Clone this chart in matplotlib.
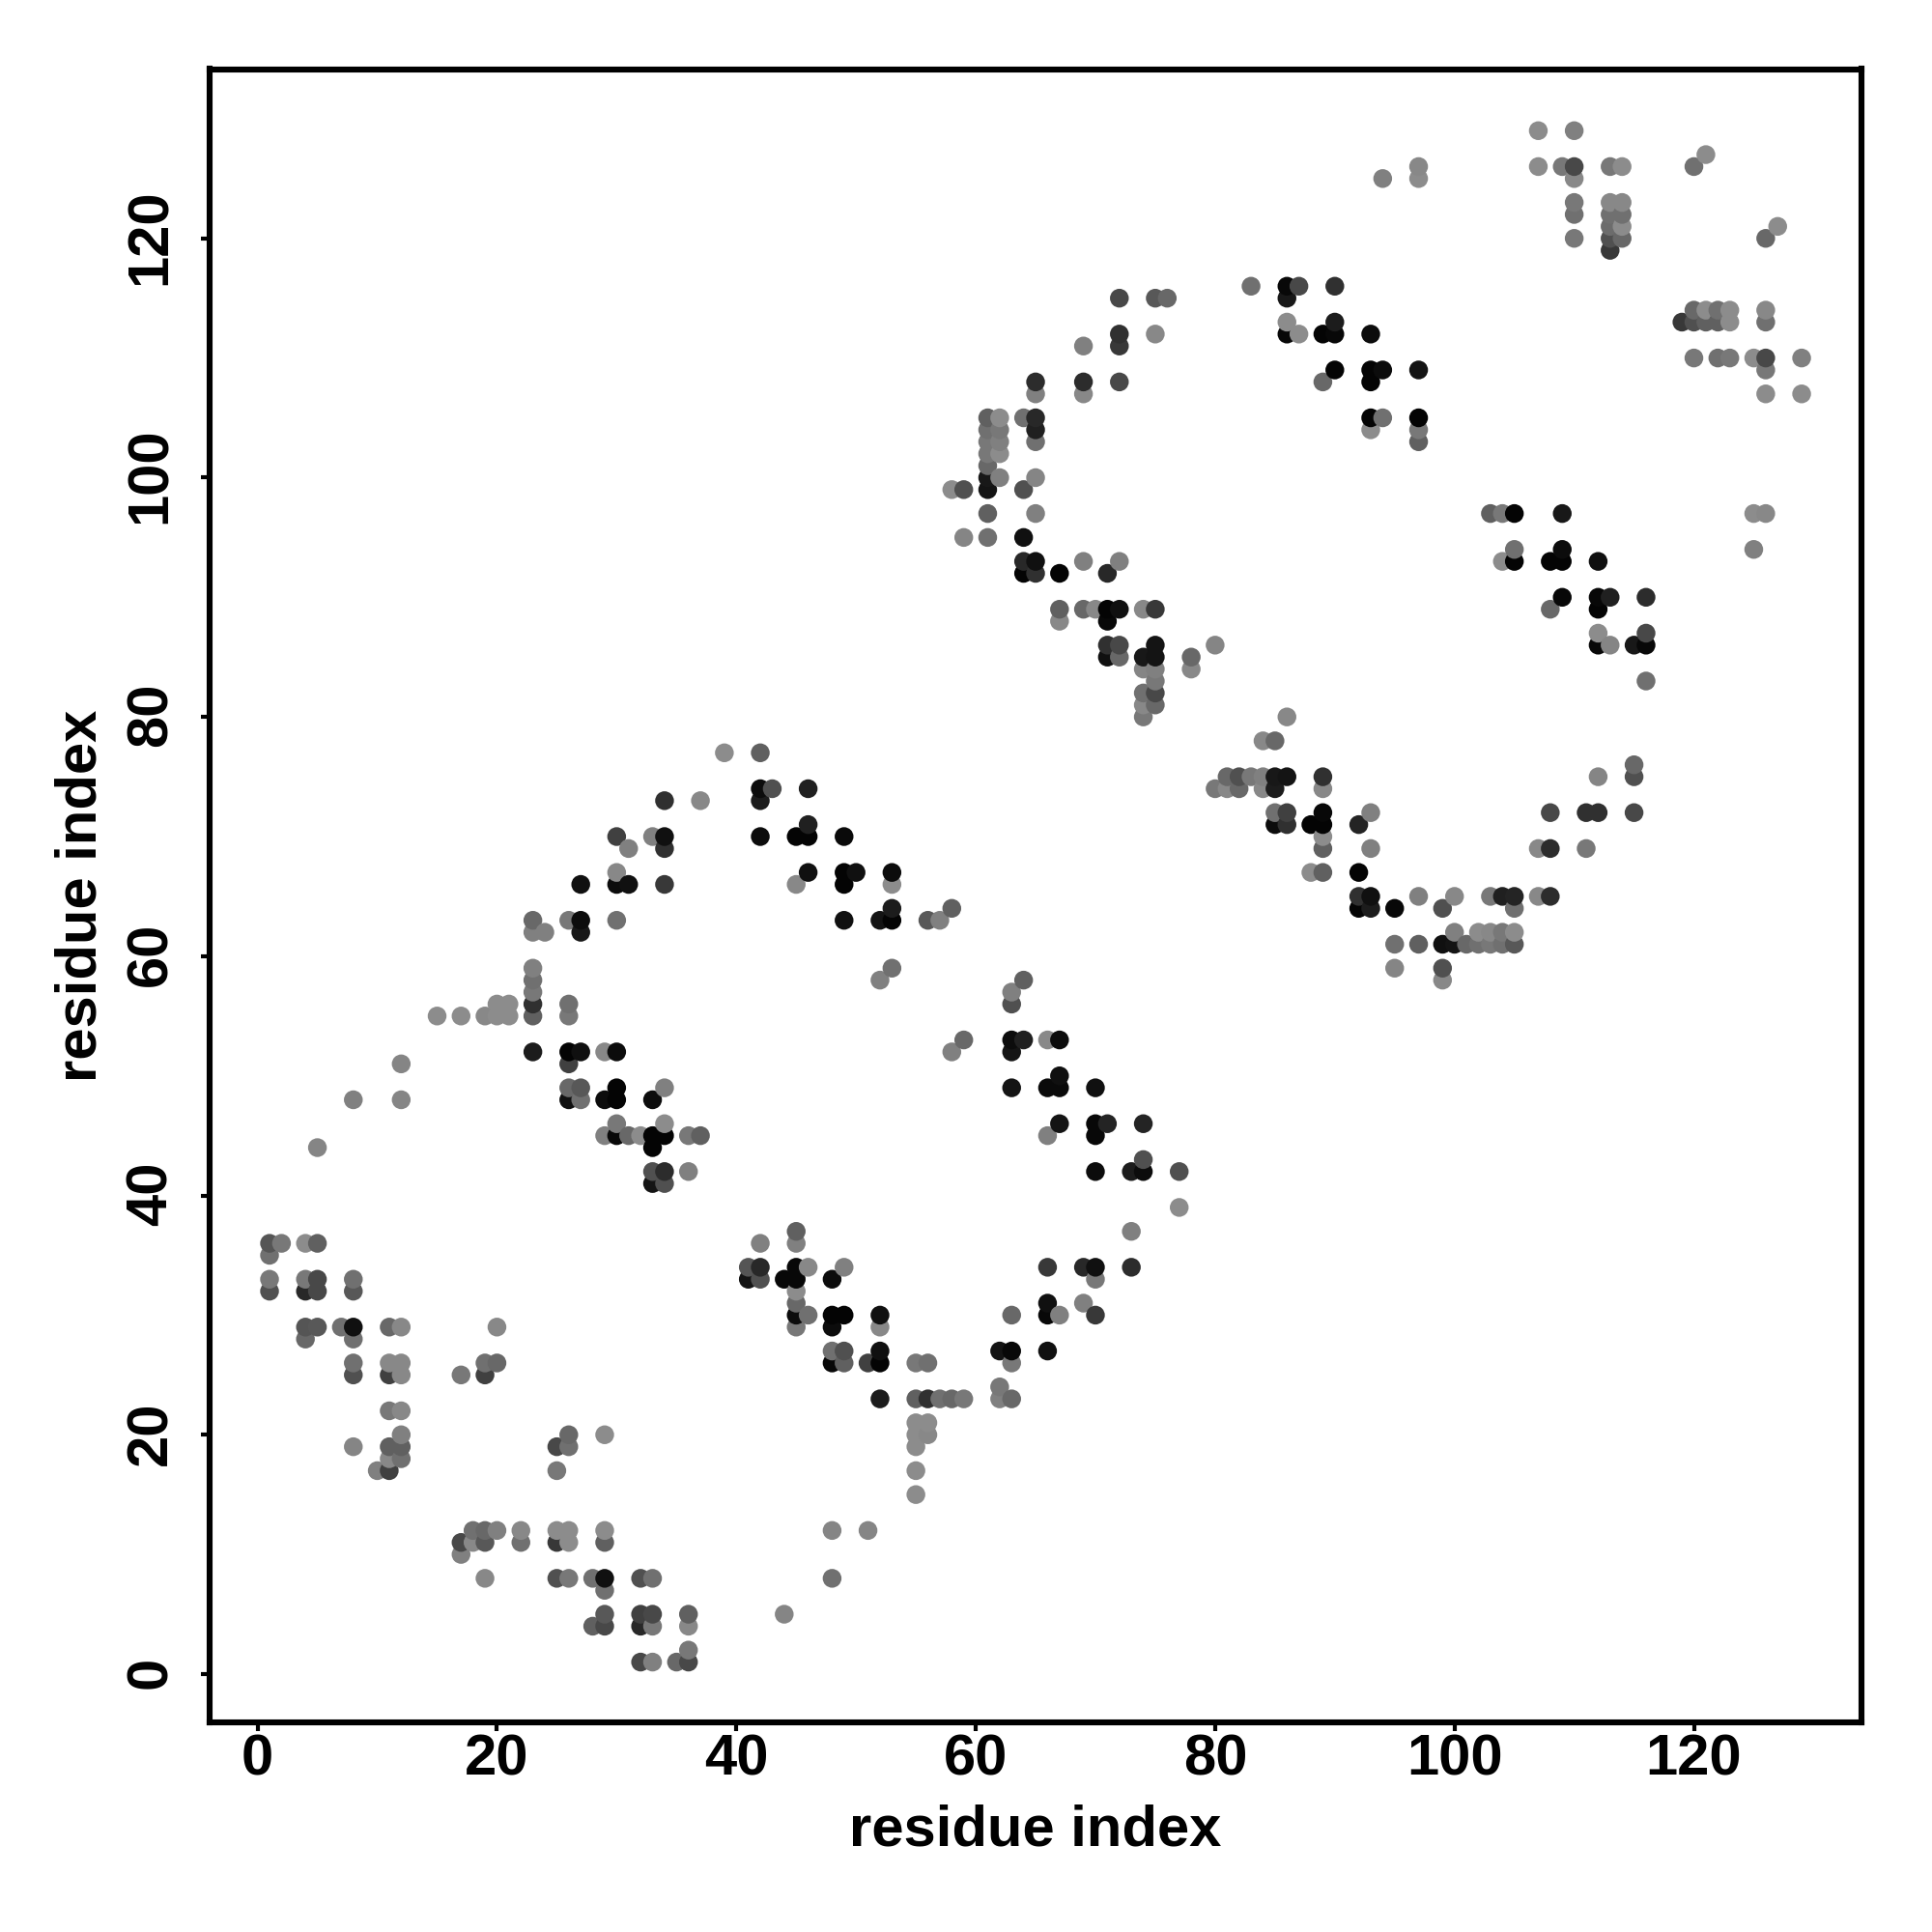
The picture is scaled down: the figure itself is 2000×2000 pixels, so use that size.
import matplotlib
matplotlib.use("Agg")
import matplotlib.pyplot as plt
from matplotlib.transforms import ScaledTranslation
import numpy as np

# one line per row of the map, the three lists line up
res_x = [
    107, 110,
    121,
    97, 107, 109, 110, 113, 114, 120,
    94, 97, 110,
    110, 113, 114,
    110, 113, 114,
    113, 114, 127,
    110, 113, 114, 126,
    113,
    83, 86, 87, 90,
    72, 75, 76, 86,
    120, 121, 122, 123, 126,
    86, 90, 119, 120, 121, 122, 123, 126,
    72, 75, 86, 87, 89, 90, 93,
    69, 72,
    120, 122, 123, 125, 126, 129,
    90, 93, 94, 97, 126,
    65, 69, 72, 89, 93,
    65, 69, 126, 129,
    61, 62, 64, 65, 93, 94, 97,
    61, 62, 65, 93, 97,
    61, 62, 65, 97,
    61, 62,
    61,
    61, 62, 65,
    58, 59, 61, 64,
    61, 65, 103, 104, 105, 109, 125, 126,
    59, 61, 64,
    105, 109, 125,
    64, 65, 69, 72, 104, 105, 108, 109, 112,
    64, 65, 67, 71,
    109, 112, 113, 116,
    67, 69, 70, 71, 72, 74, 75, 108, 112,
    67, 71,
    112, 116,
    71, 72, 75, 80, 112, 113, 115, 116,
    71, 72, 74, 75, 78,
    74, 75, 78,
    75, 116,
    74, 75,
    74, 75,
    74, 86,
    84, 85,
    39, 42,
    115,
    81, 82, 83, 84, 85, 86, 89, 112, 115,
    42, 43, 46, 80, 81, 82, 84, 85, 89,
    34, 37, 42,
    85, 86, 89, 93, 108, 111, 112, 115,
    46, 85, 86, 88, 89, 92,
    30, 33, 34, 42, 45, 46, 49, 89,
    31, 34, 89, 93, 107, 108, 111,
    30, 46, 49, 50, 53, 88, 89, 92,
    27, 30, 31, 34, 45, 49, 53,
    92, 93, 97, 100, 103, 104, 105, 107, 108,
    53, 58, 92, 93, 95, 99, 105,
    23, 26, 27, 30, 49, 52, 53, 56, 57,
    23, 24, 27, 100, 102, 103, 104, 105,
    95, 97, 99, 100, 101, 102, 103, 104, 105,
    23, 53, 95, 99,
    23, 52, 64, 99,
    23, 63,
    20, 21, 23, 26, 63,
    15, 17, 19, 20, 21, 23, 26,
    59, 63, 64, 66, 67,
    23, 26, 27, 29, 30, 58, 63,
    12, 26,
    67,
    26, 27, 30, 34, 63, 66, 67, 70,
    8, 12, 26, 27, 29, 30, 33,
    30, 34, 67, 70, 71, 74,
    29, 30, 31, 32, 33, 34, 36, 37, 66, 70,
    5, 33,
    74,
    33, 34, 36, 70, 73, 74, 77,
    33, 34,
    77,
    45, 73,
    1, 2, 4, 5, 42, 45,
    1,
    41, 42, 45, 46, 49, 66, 69, 70, 73,
    1, 4, 5, 8, 41, 42, 44, 45, 48, 70,
    1, 4, 5, 8, 45,
    45, 66, 69,
    45, 46, 48, 49, 52, 63, 66, 67, 70,
    4, 5, 7, 8, 11, 12, 20, 45, 48, 52,
    4, 8,
    48, 49, 52, 62, 63, 66,
    8, 11, 12, 19, 20, 48, 49, 51, 52, 55, 56, 63,
    8, 11, 12, 17, 19,
    62,
    52, 55, 56, 57, 58, 59, 62, 63,
    11, 12,
    55, 56,
    12, 26, 29, 55, 56,
    8, 11, 12, 25, 26, 55,
    11, 12,
    10, 11, 25, 55,
    55,
    18, 19, 20, 22, 25, 26, 29, 48, 51,
    17, 18, 19, 22, 25, 26, 29,
    17,
    19, 25, 26, 28, 29, 32, 33, 48,
    29,
    29, 32, 33, 36, 44,
    28, 29, 32, 33, 36,
    36,
    32, 33, 35, 36,
]

res_y = [
    129, 129,
    127,
    126, 126, 126, 126, 126, 126, 126,
    125, 125, 125,
    123, 123, 123,
    122, 122, 122,
    121, 121, 121,
    120, 120, 120, 120,
    119,
    116, 116, 116, 116,
    115, 115, 115, 115,
    114, 114, 114, 114, 114,
    113, 113, 113, 113, 113, 113, 113, 113,
    112, 112, 112, 112, 112, 112, 112,
    111, 111,
    110, 110, 110, 110, 110, 110,
    109, 109, 109, 109, 109,
    108, 108, 108, 108, 108,
    107, 107, 107, 107,
    105, 105, 105, 105, 105, 105, 105,
    104, 104, 104, 104, 104,
    103, 103, 103, 103,
    102, 102,
    101,
    100, 100, 100,
    99, 99, 99, 99,
    97, 97, 97, 97, 97, 97, 97, 97,
    95, 95, 95,
    94, 94, 94,
    93, 93, 93, 93, 93, 93, 93, 93, 93,
    92, 92, 92, 92,
    90, 90, 90, 90,
    89, 89, 89, 89, 89, 89, 89, 89, 89,
    88, 88,
    87, 87,
    86, 86, 86, 86, 86, 86, 86, 86,
    85, 85, 85, 85, 85,
    84, 84, 84,
    83, 83,
    82, 82,
    81, 81,
    80, 80,
    78, 78,
    77, 77,
    76,
    75, 75, 75, 75, 75, 75, 75, 75, 75,
    74, 74, 74, 74, 74, 74, 74, 74, 74,
    73, 73, 73,
    72, 72, 72, 72, 72, 72, 72, 72,
    71, 71, 71, 71, 71, 71,
    70, 70, 70, 70, 70, 70, 70, 70,
    69, 69, 69, 69, 69, 69, 69,
    67, 67, 67, 67, 67, 67, 67, 67,
    66, 66, 66, 66, 66, 66, 66,
    65, 65, 65, 65, 65, 65, 65, 65, 65,
    64, 64, 64, 64, 64, 64, 64,
    63, 63, 63, 63, 63, 63, 63, 63, 63,
    62, 62, 62, 62, 62, 62, 62, 62,
    61, 61, 61, 61, 61, 61, 61, 61, 61,
    59, 59, 59, 59,
    58, 58, 58, 58,
    57, 57,
    56, 56, 56, 56, 56,
    55, 55, 55, 55, 55, 55, 55,
    53, 53, 53, 53, 53,
    52, 52, 52, 52, 52, 52, 52,
    51, 51,
    50,
    49, 49, 49, 49, 49, 49, 49, 49,
    48, 48, 48, 48, 48, 48, 48,
    46, 46, 46, 46, 46, 46,
    45, 45, 45, 45, 45, 45, 45, 45, 45, 45,
    44, 44,
    43,
    42, 42, 42, 42, 42, 42, 42,
    41, 41,
    39,
    37, 37,
    36, 36, 36, 36, 36, 36,
    35,
    34, 34, 34, 34, 34, 34, 34, 34, 34,
    33, 33, 33, 33, 33, 33, 33, 33, 33, 33,
    32, 32, 32, 32, 32,
    31, 31, 31,
    30, 30, 30, 30, 30, 30, 30, 30, 30,
    29, 29, 29, 29, 29, 29, 29, 29, 29, 29,
    28, 28,
    27, 27, 27, 27, 27, 27,
    26, 26, 26, 26, 26, 26, 26, 26, 26, 26, 26, 26,
    25, 25, 25, 25, 25,
    24,
    23, 23, 23, 23, 23, 23, 23, 23,
    22, 22,
    21, 21,
    20, 20, 20, 20, 20,
    19, 19, 19, 19, 19, 19,
    18, 18,
    17, 17, 17, 17,
    15,
    12, 12, 12, 12, 12, 12, 12, 12, 12,
    11, 11, 11, 11, 11, 11, 11,
    10,
    8, 8, 8, 8, 8, 8, 8, 8,
    7,
    5, 5, 5, 5, 5,
    4, 4, 4, 4, 4,
    2,
    1, 1, 1, 1,
]

# grey level of each point, 0-255
res_gray = [
    0x8c, 0x80,
    0x8c,
    0x88, 0x8c, 0x78, 0x48, 0x78, 0x8c, 0x70,
    0x80, 0x8c, 0x88,
    0x78, 0x88, 0x88,
    0x70, 0x70, 0x70,
    0x6c, 0x8c, 0x8c,
    0x78, 0x50, 0x68, 0x68,
    0x38,
    0x70, 0x08, 0x48, 0x30,
    0x48, 0x58, 0x68, 0x18,
    0x68, 0x8c, 0x70, 0x8c, 0x88,
    0x8c, 0x1c, 0x38, 0x50, 0x60, 0x60, 0x8c, 0x70,
    0x30, 0x88, 0x08, 0x8c, 0x04, 0x08, 0x0c,
    0x80, 0x38,
    0x78, 0x70, 0x78, 0x8c, 0x48, 0x80,
    0x04, 0x04, 0x0c, 0x14, 0x78,
    0x2c, 0x2c, 0x48, 0x68, 0x04,
    0x80, 0x88, 0x8c, 0x8c,
    0x60, 0x8c, 0x70, 0x28, 0x04, 0x70, 0x04,
    0x70, 0x78, 0x20, 0x8c, 0x78,
    0x78, 0x80, 0x70, 0x60,
    0x78, 0x8c,
    0x68,
    0x18, 0x80, 0x85,
    0x8c, 0x50, 0x14, 0x50,
    0x60, 0x80, 0x60, 0x78, 0x04, 0x18, 0x8c, 0x88,
    0x85, 0x70, 0x10,
    0x70, 0x0c, 0x80,
    0x28, 0x10, 0x80, 0x80, 0x8c, 0x04, 0x04, 0x04, 0x10,
    0x04, 0x30, 0x04, 0x28,
    0x08, 0x08, 0x20, 0x2c,
    0x60, 0x68, 0x88, 0x04, 0x10, 0x88, 0x38, 0x68, 0x04,
    0x88, 0x08,
    0x8c, 0x48,
    0x30, 0x48, 0x14, 0x85, 0x08, 0x85, 0x18, 0x08,
    0x10, 0x68, 0x18, 0x14, 0x68,
    0x85, 0x80, 0x88,
    0x78, 0x70,
    0x70, 0x48,
    0x88, 0x68,
    0x78, 0x88,
    0x88, 0x68,
    0x8c, 0x60,
    0x68,
    0x68, 0x50, 0x78, 0x80, 0x18, 0x14, 0x30, 0x85, 0x50,
    0x0c, 0x50, 0x20, 0x78, 0x88, 0x68, 0x88, 0x1c, 0x88,
    0x30, 0x88, 0x1c,
    0x70, 0x40, 0x08, 0x80, 0x48, 0x30, 0x30, 0x48,
    0x20, 0x0c, 0x30, 0x04, 0x04, 0x24,
    0x40, 0x80, 0x10, 0x0c, 0x04, 0x04, 0x0a, 0x8c,
    0x80, 0x30, 0x60, 0x80, 0x88, 0x2c, 0x78,
    0x88, 0x10, 0x04, 0x10, 0x0c, 0x8c, 0x60, 0x04,
    0x10, 0x0c, 0x10, 0x38, 0x88, 0x04, 0x8c,
    0x30, 0x10, 0x80, 0x88, 0x78, 0x20, 0x24, 0x88, 0x2c,
    0x1c, 0x60, 0x04, 0x1c, 0x08, 0x50, 0x70,
    0x68, 0x78, 0x0c, 0x70, 0x10, 0x14, 0x04, 0x58, 0x80,
    0x80, 0x80, 0x18, 0x80, 0x8c, 0x88, 0x78, 0x8c,
    0x70, 0x60, 0x10, 0x14, 0x68, 0x70, 0x78, 0x70, 0x58,
    0x80, 0x70, 0x85, 0x50,
    0x70, 0x80, 0x60, 0x88,
    0x78, 0x80,
    0x8c, 0x8c, 0x30, 0x70, 0x50,
    0x8c, 0x8c, 0x88, 0x8c, 0x8c, 0x60, 0x78,
    0x68, 0x0c, 0x20, 0x88, 0x0c,
    0x1c, 0x04, 0x10, 0x88, 0x0c, 0x80, 0x14,
    0x85, 0x40,
    0x10,
    0x68, 0x58, 0x04, 0x80, 0x14, 0x0a, 0x0a, 0x10,
    0x80, 0x85, 0x10, 0x70, 0x0c, 0x04, 0x0c,
    0x78, 0x8c, 0x14, 0x08, 0x24, 0x24,
    0x80, 0x08, 0x68, 0x8c, 0x04, 0x04, 0x78, 0x60, 0x80, 0x08,
    0x85, 0x04,
    0x50,
    0x50, 0x2c, 0x80, 0x0c, 0x1c, 0x0c, 0x50,
    0x14, 0x50,
    0x8c,
    0x60, 0x80,
    0x55, 0x78, 0x8c, 0x60, 0x80, 0x80,
    0x70,
    0x55, 0x28, 0x08, 0x88, 0x80, 0x38, 0x28, 0x10, 0x2c,
    0x78, 0x78, 0x48, 0x70, 0x14, 0x50, 0x08, 0x08, 0x0c, 0x78,
    0x50, 0x28, 0x48, 0x58, 0x8c,
    0x68, 0x10, 0x80,
    0x0c, 0x70, 0x04, 0x04, 0x10, 0x68, 0x08, 0x80, 0x38,
    0x55, 0x58, 0x70, 0x10, 0x68, 0x88, 0x88, 0x78, 0x0c, 0x88,
    0x68, 0x70,
    0x70, 0x50, 0x10, 0x14, 0x08, 0x10,
    0x70, 0x88, 0x88, 0x70, 0x68, 0x08, 0x60, 0x40, 0x04, 0x78, 0x70, 0x78,
    0x50, 0x40, 0x88, 0x78, 0x40,
    0x78,
    0x1c, 0x60, 0x30, 0x70, 0x68, 0x78, 0x80, 0x68,
    0x78, 0x88,
    0x8c, 0x8c,
    0x80, 0x68, 0x8c, 0x8c, 0x88,
    0x85, 0x60, 0x60, 0x48, 0x70, 0x8c,
    0x88, 0x70,
    0x80, 0x40, 0x78, 0x8c,
    0x8c,
    0x70, 0x68, 0x80, 0x88, 0x8c, 0x8c, 0x8c, 0x85, 0x85,
    0x48, 0x88, 0x58, 0x70, 0x38, 0x8c, 0x60,
    0x80,
    0x88, 0x50, 0x78, 0x70, 0x10, 0x50, 0x70, 0x70,
    0x70,
    0x58, 0x40, 0x48, 0x60, 0x85,
    0x60, 0x48, 0x28, 0x78, 0x88,
    0x78,
    0x48, 0x80, 0x68, 0x48,
]

x_ticks = [0, 20, 40, 60, 80, 100, 120]
y_ticks = [0, 20, 40, 60, 80, 100, 120]

plt.rcParams["font.family"] = ["Liberation Sans", "DejaVu Sans"]
plt.rcParams["font.weight"] = "bold"

fig = plt.figure(figsize=(10, 10), dpi=200)
ax = fig.add_axes([216.7 / 2000, 1 - 1783 / 2000, (1927 - 216.7) / 2000, (1783 - 71.5) / 2000])

# later columns sit on top of earlier ones
x = np.array(res_x)
y = np.array(res_y)
gray = np.array(res_gray) / 255
order = np.lexsort((y, x))
colors = np.column_stack([gray, gray, gray])[order]
ax.scatter(x[order], y[order], s=49, c=colors, linewidths=0)

ax.set_xlim(-4.03, 134)
ax.set_ylim(-4.04, 134.15)
ax.set_xticks(x_ticks)
ax.set_yticks(y_ticks)
ax.tick_params(axis="x", length=3.4, width=1.5, labelsize=21.5, pad=0.8)
ax.tick_params(axis="y", length=3.4, width=1.5, labelsize=21.5, pad=8.3, labelrotation=90)
# the rotated labels sit a little low otherwise
nudge = ScaledTranslation(0, 0.7 / 72, fig.dpi_scale_trans)
for lab in ax.get_yticklabels():
    lab.set_verticalalignment("center")
    lab.set_transform(lab.get_transform() + nudge)

for spine in ax.spines.values():
    spine.set_linewidth(2.2)

ax.set_xlabel("residue index", fontsize=21.5, fontweight="bold", labelpad=6.3)
ax.set_ylabel("residue index", fontsize=21.5, fontweight="bold", labelpad=6.5)

fig.savefig("out.png", dpi=200, facecolor="white")
